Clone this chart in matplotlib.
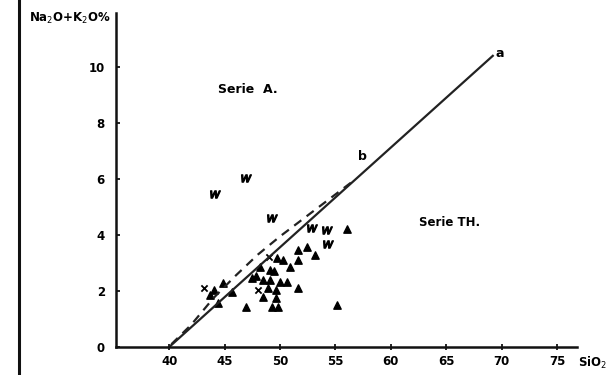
import matplotlib.pyplot as plt
from matplotlib.lines import Line2D

# line a (limit between series), dashed curve ending at b
line_a_x = [40.0, 69.2]
line_a_y = [0.0, 10.4]
curve_b_x = [40.2, 42.0, 44.0, 46.0, 48.0, 50.0, 52.0, 54.0, 56.5]
curve_b_y = [0.1, 0.8, 1.75, 2.55, 3.3, 3.95, 4.55, 5.15, 5.9]

# samples: "w" symbols
w_x = [44.1, 46.9, 49.3, 52.9, 54.2, 54.3]
w_y = [5.46, 6.04, 4.6, 4.25, 4.18, 3.68]

# samples: triangles
tri_x = [56.0, 52.4, 53.2, 51.6, 51.6, 50.9, 49.7, 50.3, 49.1, 48.2, 47.5, 48.5,
         49.1, 50.0, 50.6, 51.6, 48.9, 49.6, 48.5, 49.6, 46.9, 49.3, 49.8, 55.1,
         45.7, 44.9, 44.0, 43.7, 44.4, 49.5, 47.8]
tri_y = [4.2, 3.57, 3.29, 3.46, 3.1, 2.86, 3.18, 3.1, 2.75, 2.86, 2.46, 2.39,
         2.39, 2.32, 2.32, 2.1, 2.1, 2.04, 1.79, 1.75, 1.43, 1.43, 1.43, 1.5,
         1.96, 2.29, 2.04, 1.86, 1.57, 2.7, 2.55]

# samples: crosses
x_x = [43.1, 48.0, 49.0]
x_y = [2.1, 2.04, 3.2]

xticks = [40, 45, 50, 55, 60, 65, 70, 75]
yticks = [0, 2, 4, 6, 8, 10]

fig = plt.figure(figsize=(6.08, 3.75), dpi=100)
ax = fig.add_axes([116 / 608, 28 / 375, (577 - 116) / 608, (347 - 13) / 375])

ax.plot(line_a_x, line_a_y, color='#222222', lw=1.6)
ax.plot(curve_b_x, curve_b_y, color='#222222', lw=1.6, ls=(0, (4, 3)))

ax.scatter(w_x, w_y, marker='$w$', s=50, color='black', linewidths=0.9)
ax.scatter(tri_x, tri_y, marker='^', s=28, color='black')
ax.scatter(x_x, x_y, marker='x', s=20, color='black', linewidths=1.3)

ax.text(69.8, 10.5, 'a', fontsize=9, fontweight='bold', ha='center', va='center')
ax.text(57.4, 6.8, 'b', fontsize=9, fontweight='bold', ha='center', va='center')
ax.text(47.1, 9.18, 'Serie  A.', fontsize=9, fontweight='bold', ha='center', va='center')
ax.text(65.3, 4.46, 'Serie TH.', fontsize=8.5, fontweight='bold', ha='center', va='center')

ax.set_xlim(35.2, 76.8)
ax.set_ylim(0, 11.93)
ax.set_xticks(xticks)
ax.set_yticks(yticks)
ax.set_xticklabels([str(t) for t in xticks], fontsize=8.5, fontweight='bold')
ax.set_yticklabels([str(t) for t in yticks], fontsize=8.5, fontweight='bold')
ax.tick_params(axis='x', direction='inout', length=5, width=1.2, pad=3)
ax.tick_params(axis='y', direction='in', length=3, width=1.2, pad=8)
for s in ['top', 'right']:
    ax.spines[s].set_visible(False)
for s in ['left', 'bottom']:
    ax.spines[s].set_linewidth(1.8)
    ax.spines[s].set_color('#111111')

fig.text(70 / 608, 1 - 18 / 375, 'Na$_2$O+K$_2$O%', fontsize=8.5, fontweight='bold',
         ha='center', va='center')
fig.text(593 / 608, 1 - 363 / 375, 'SiO$_2$', fontsize=8.5, fontweight='bold',
         ha='center', va='center')

# page edge of the scan
fig.add_artist(Line2D([19 / 608, 19 / 608], [0, 1], color='#111111', lw=2.2,
                      transform=fig.transFigure))

fig.savefig('out.png', dpi=100)
